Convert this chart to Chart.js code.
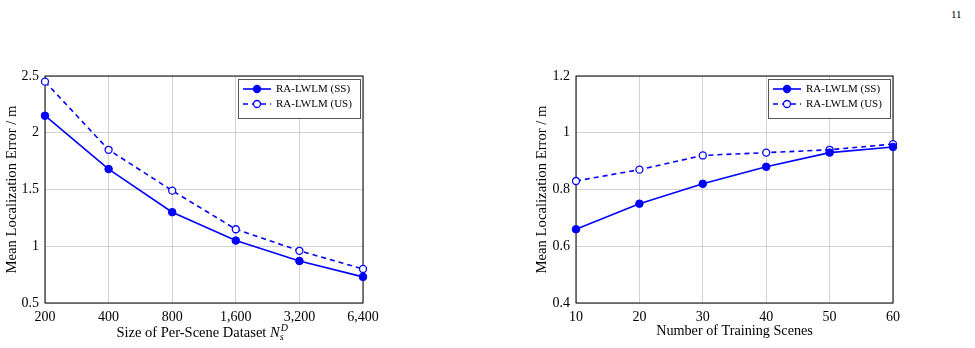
<!DOCTYPE html>
<html>
<head>
<meta charset="utf-8">
<script src="https://cdn.jsdelivr.net/npm/chart.js@4"></script>
<style>
  body { margin: 0; background: #fff; width: 975px; height: 348px; position: relative; overflow: hidden; }
  canvas { position: absolute; top: 0; }
  #left { left: 0; }
  #right { left: 520px; }
  #page { position: absolute; left: 951px; top: 8px; font: 11px "Liberation Serif", serif; color: #000; }
</style>
</head>
<body>
<div id="page">11</div>
<canvas id="left" width="420" height="348"></canvas>
<canvas id="right" width="455" height="348"></canvas>
<script>
// left: error vs. per-scene dataset size
const sizeLabels = ["200", "400", "800", "1,600", "3,200", "6,400"];
const sizeSS = [2.15, 1.68, 1.30, 1.05, 0.87, 0.73];
const sizeUS = [2.45, 1.85, 1.49, 1.15, 0.96, 0.80];

// right: error vs. number of training scenes
const scenes = [10, 20, 30, 40, 50, 60];
const scenesSS = [0.66, 0.75, 0.82, 0.88, 0.93, 0.95];
const scenesUS = [0.83, 0.87, 0.92, 0.93, 0.94, 0.96];

const seriesNames = ["RA-LWLM (SS)", "RA-LWLM (US)"];

const BLUE = "#0000ff";
const SERIF = "'Liberation Serif', 'Times New Roman', serif";

Chart.defaults.font.family = SERIF;
Chart.defaults.color = "#000";

function fmt(v) {
  return String(Math.round(v * 10) / 10);
}

// frame + legend box inside the plot, pgfplots style
const framePlugin = {
  id: "frame",
  beforeDatasetsDraw: function(chart) {
    let a = chart.chartArea, ctx = chart.ctx;
    ctx.save();
    ctx.strokeStyle = "#000";
    ctx.lineWidth = 1;
    ctx.strokeRect(a.left, a.top, a.right - a.left, a.bottom - a.top);
    ctx.restore();
  },
  afterDraw: function(chart) {
    let a = chart.chartArea, ctx = chart.ctx;
    let w = 122, h = 39;
    let x = a.right - w - 3, y = a.top + 3;
    ctx.save();
    ctx.fillStyle = "#fff";
    ctx.fillRect(x, y, w, h);
    ctx.strokeStyle = "#555";
    ctx.lineWidth = 1;
    ctx.strokeRect(x + 0.5, y + 0.5, w, h);

    chart.data.datasets.forEach(function(ds, i) {
      let ly = y + 10 + i * 15;
      ctx.strokeStyle = BLUE;
      ctx.lineWidth = 1.6;
      ctx.setLineDash(ds.borderDash || []);
      ctx.beginPath();
      ctx.moveTo(x + 5, ly);
      ctx.lineTo(x + 33, ly);
      ctx.stroke();
      ctx.setLineDash([]);
      ctx.beginPath();
      ctx.arc(x + 19, ly, 3.5, 0, Math.PI * 2);
      ctx.fillStyle = ds.pointBackgroundColor;
      ctx.fill();
      ctx.lineWidth = 1.3;
      ctx.stroke();
      ctx.fillStyle = "#000";
      ctx.font = "11px " + SERIF;
      ctx.textBaseline = "middle";
      ctx.fillText(ds.label, x + 38, ly + 0.5);
    });
    ctx.restore();
  }
};

// x title of the left plot needs italic N with sub/superscript
const sizeTitlePlugin = {
  id: "sizeTitle",
  afterDraw: function(chart) {
    let a = chart.chartArea, ctx = chart.ctx;
    let base = "Size of Per-Scene Dataset ";
    ctx.save();
    ctx.fillStyle = "#000";
    ctx.textBaseline = "alphabetic";
    ctx.font = "14.5px " + SERIF;
    let wBase = ctx.measureText(base).width;
    ctx.font = "italic 14.5px " + SERIF;
    let wN = ctx.measureText("N").width;
    ctx.font = "italic 10px " + SERIF;
    let wS = ctx.measureText("s").width;
    let total = wBase + wN + wS + 8;
    let x = (a.left + a.right) / 2 - total / 2;
    let y = 337;
    ctx.font = "14.5px " + SERIF;
    ctx.fillText(base, x, y);
    x += wBase;
    ctx.font = "italic 14.5px " + SERIF;
    ctx.fillText("N", x, y);
    x += wN;
    ctx.font = "italic 10px " + SERIF;
    ctx.fillText("s", x, y + 3);
    ctx.fillText("D", x + 1, y - 6);
    ctx.restore();
  }
};

function makeDatasets(ss, us) {
  return [{
    label: seriesNames[0],
    data: ss,
    borderColor: BLUE,
    backgroundColor: BLUE,
    pointBackgroundColor: BLUE,
    pointBorderColor: BLUE,
    borderWidth: 1.6,
    pointRadius: 3.8,
    pointBorderWidth: 1,
    tension: 0,
    clip: false
  }, {
    label: seriesNames[1],
    data: us,
    borderColor: BLUE,
    backgroundColor: "#fff",
    pointBackgroundColor: "#fff",
    pointBorderColor: BLUE,
    borderWidth: 1.6,
    borderDash: [5, 4],
    pointRadius: 3.5,
    pointBorderWidth: 1.3,
    tension: 0,
    clip: false
  }];
}

function yAxis(min, max, step, width, titlePad) {
  return {
    min: min,
    max: max,
    afterFit: function(s) { s.width = width; },
    grid: { color: "#c8c8c8", lineWidth: 0.8, drawTicks: false },
    border: { display: false },
    ticks: { stepSize: step, padding: 6, font: { size: 14 }, callback: fmt },
    title: { display: true, text: "Mean Localization Error / m", font: { size: 14.7 }, padding: { top: titlePad, bottom: 0 } }
  };
}

const baseOptions = {
  responsive: false,
  animation: false,
  plugins: { legend: { display: false }, tooltip: { enabled: false } }
};

new Chart(document.getElementById("left"), {
  type: "line",
  data: { labels: sizeLabels, datasets: makeDatasets(sizeSS, sizeUS) },
  options: Object.assign({}, baseOptions, {
    layout: { padding: { top: 76, right: 57, left: 0, bottom: 0 } },
    scales: {
      x: {
        type: "category",
        offset: false,
        afterFit: function(s) { s.height = 45; },
        grid: { color: "#c8c8c8", lineWidth: 0.8, drawTicks: false },
        border: { display: false },
        ticks: { padding: 6, font: { size: 14 }, maxRotation: 0, autoSkip: false }
      },
      y: yAxis(0.5, 2.5, 0.5, 45, 3)
    }
  }),
  plugins: [framePlugin, sizeTitlePlugin]
});

new Chart(document.getElementById("right"), {
  type: "line",
  data: { labels: scenes, datasets: makeDatasets(scenesSS, scenesUS) },
  options: Object.assign({}, baseOptions, {
    layout: { padding: { top: 76, right: 82, left: 0, bottom: 0 } },
    scales: {
      x: {
        type: "linear",
        min: 10,
        max: 60,
        afterFit: function(s) { s.height = 45; },
        grid: { color: "#c8c8c8", lineWidth: 0.8, drawTicks: false },
        border: { display: false },
        ticks: { stepSize: 10, padding: 6, font: { size: 14 }, maxRotation: 0 },
        title: { display: true, text: "Number of Training Scenes", font: { size: 14.2 }, padding: { top: 0, bottom: 8 } }
      },
      y: yAxis(0.4, 1.2, 0.2, 56, 13)
    }
  }),
  plugins: [framePlugin]
});
</script>
</body>
</html>
